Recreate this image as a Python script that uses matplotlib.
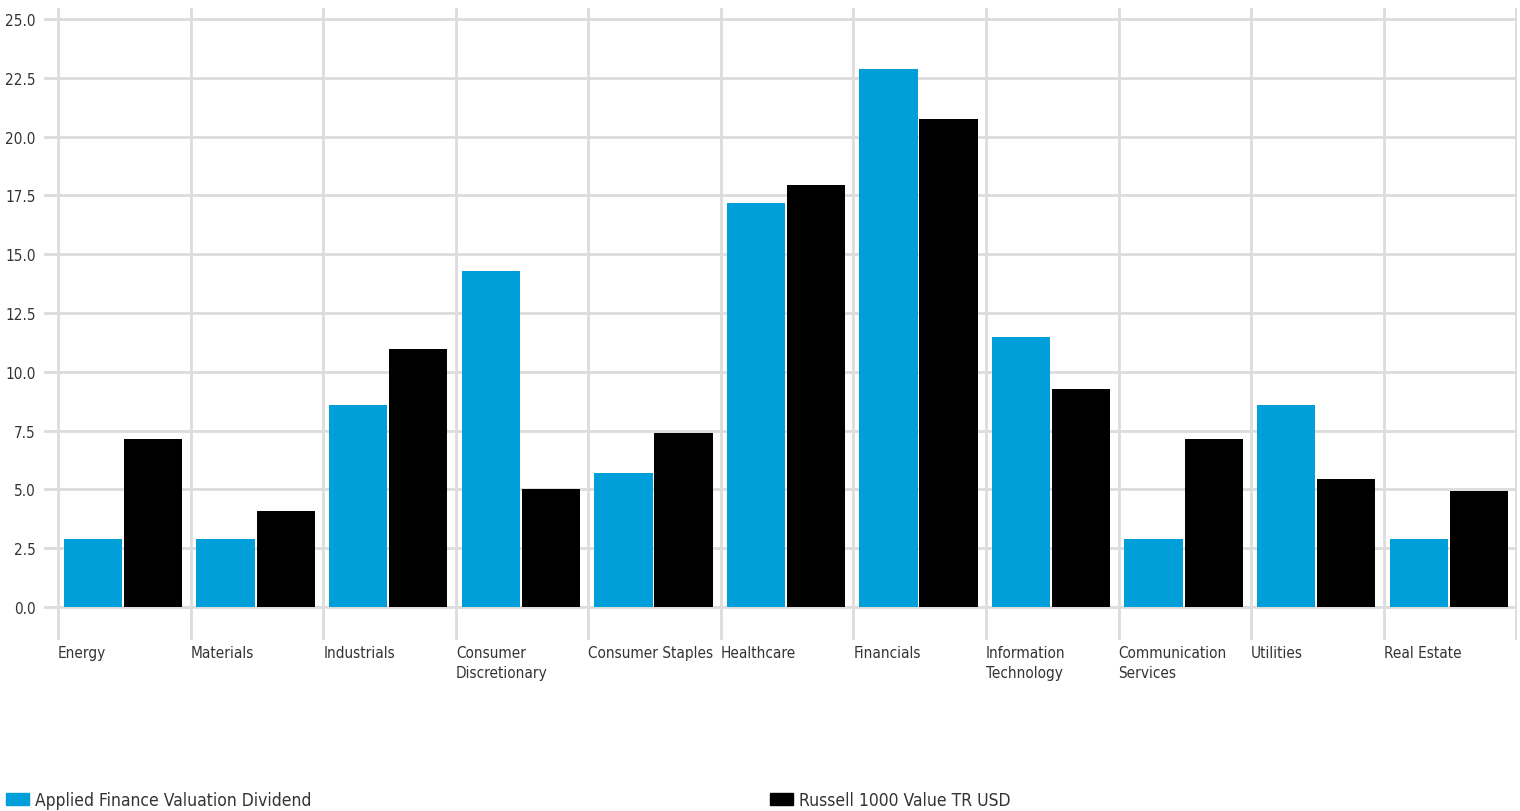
import matplotlib
matplotlib.use("Agg")
import matplotlib.pyplot as plt
from matplotlib import font_manager
from matplotlib.patches import Patch
import numpy as np

categories = ["Energy", "Materials", "Industrials", "Consumer\nDiscretionary",
              "Consumer Staples", "Healthcare", "Financials", "Information\nTechnology",
              "Communication\nServices", "Utilities", "Real Estate"]
fund_name = "Applied Finance Valuation Dividend"
bench_name = "Russell 1000 Value TR USD"
fund_values = [2.89, 2.89, 8.59, 14.29, 5.70, 17.18, 22.87, 11.48, 2.89, 8.59, 2.89]
bench_values = [7.14, 4.08, 10.97, 5.02, 7.40, 17.94, 20.75, 9.27, 7.14, 5.44, 4.93]
y_ticks = [0.0, 2.5, 5.0, 7.5, 10.0, 12.5, 15.0, 17.5, 20.0, 22.5, 25.0]

fund_color = "#009fda"
bench_color = "#000000"
grid_color = "#dcdcdc"
text_color = "#333333"

available = {f.name for f in font_manager.fontManager.ttflist}
family = "Liberation Sans Narrow" if "Liberation Sans Narrow" in available else "DejaVu Sans"
plt.rcParams["font.family"] = [family, "DejaVu Sans"]
if family == "DejaVu Sans":
    plt.rcParams["font.stretch"] = "condensed"

fig = plt.figure(figsize=(15.2, 8.12), dpi=100)
ax = fig.add_axes([44 / 1520, 1 - 641 / 812, (1517 - 44) / 1520, (641 - 9) / 812])

n = len(categories)
x = np.arange(n)
width = 0.44
ax.bar(x + 0.264, fund_values, width=width, color=fund_color, zorder=3)
ax.bar(x + 0.717, bench_values, width=width, color=bench_color, zorder=3)

ax.set_xlim(-0.106, n + 0.005)
ax.set_ylim(-1.4, 25.47)

# horizontal gridlines at the value ticks
ax.set_yticks(y_ticks)
ax.set_yticklabels([f"{v:.1f}" for v in y_ticks], fontsize=11, color=text_color)
ax.tick_params(axis="y", length=0, pad=6)
for v in y_ticks:
    ax.axhline(v, color=grid_color, lw=2, zorder=1)

# vertical separators at category boundaries
for b in range(n + 1):
    ax.axvline(b, color=grid_color, lw=2, zorder=1)

ax.set_xticks([])
for i, label in enumerate(categories):
    ax.text(i, -1.6, label, ha="left", va="top", fontsize=11, color=text_color,
            linespacing=1.4, transform=ax.transData, clip_on=False)

for s in ax.spines.values():
    s.set_visible(False)

legend_kw = dict(loc="lower left", frameon=False, fontsize=12.5, handlelength=1.35,
                 handleheight=0.7, handletextpad=0.3, labelcolor=text_color,
                 borderaxespad=0, borderpad=0)
fig.legend(handles=[Patch(color=fund_color)], labels=[fund_name],
           bbox_to_anchor=(6 / 1520, 2 / 812), **legend_kw)
fig.legend(handles=[Patch(color=bench_color)], labels=[bench_name],
           bbox_to_anchor=(770 / 1520, 2 / 812), **legend_kw)

fig.savefig("out.png", dpi=100)
